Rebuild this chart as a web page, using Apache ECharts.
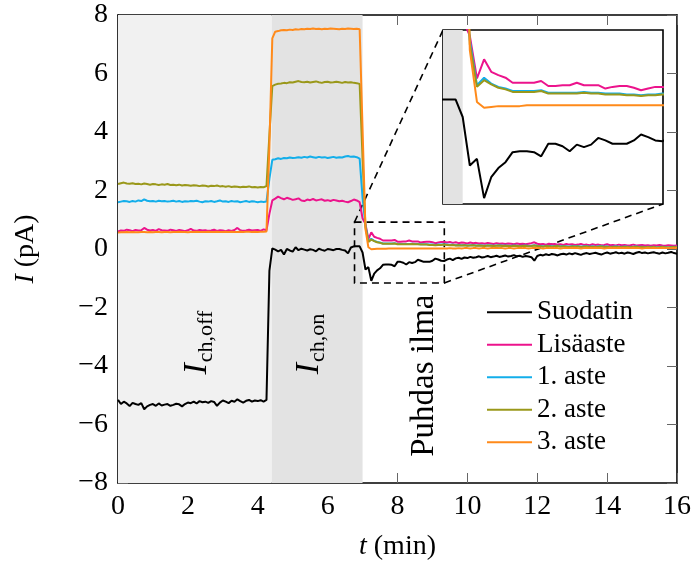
<!DOCTYPE html>
<html>
<head>
<meta charset="utf-8">
<script src="https://cdn.jsdelivr.net/npm/echarts@6/dist/echarts.min.js"></script>
<style>
  html, body { margin: 0; padding: 0; background: #fff; }
  #chart { width: 694px; height: 569px; }
</style>
</head>
<body>
<div id="chart"></div>
<script>
// Current I (pA) sampled every 5 s (1/12 min) from t = 0 to 16 min.
const STEP_MIN = 1 / 12;

const seriesNames = ['Suodatin', 'Lisäaste', '1. aste', '2. aste', '3. aste'];

const suodatin = [
  -5.16,-5.30,-5.22,-5.28,-5.37,-5.26,-5.30,-5.33,-5.27,-5.48,
  -5.38,-5.33,-5.30,-5.36,-5.28,-5.35,-5.32,-5.30,-5.36,-5.33,
  -5.29,-5.31,-5.38,-5.30,-5.25,-5.27,-5.22,-5.28,-5.20,-5.24,
  -5.22,-5.26,-5.20,-5.23,-5.36,-5.25,-5.18,-5.22,-5.27,-5.19,
  -5.22,-5.14,-5.20,-5.25,-5.19,-5.16,-5.22,-5.18,-5.20,-5.17,
  -5.22,-5.16,
  -0.75,0.02,-0.02,-0.08,-0.03,-0.19,0.00,-0.05,-0.09,0.06,
  -0.04,0.01,-0.02,-0.05,-0.01,-0.03,-0.08,0.01,-0.03,-0.06,
  0.00,-0.02,-0.04,0.00,0.00,-0.03,-0.05,-0.15,0.05,0.09,
  0.09,0.09,
  -0.12,-0.70,-0.62,-1.09,-0.84,-0.73,-0.66,-0.54,-0.53,-0.53,
  -0.54,-0.59,-0.44,-0.44,-0.47,-0.53,-0.45,-0.48,-0.45,-0.37,
  -0.40,-0.44,-0.44,-0.44,-0.40,-0.33,-0.36,-0.40,-0.41,
  -0.36,-0.33,-0.38,-0.32,-0.30,-0.34,-0.29,-0.31,-0.27,-0.30,
  -0.28,-0.25,-0.29,-0.27,-0.24,-0.28,-0.26,-0.23,-0.27,-0.25,
  -0.22,-0.26,-0.24,-0.21,-0.25,-0.23,-0.27,-0.24,-0.26,-0.28,
  -0.40,-0.24,-0.20,-0.22,-0.18,-0.21,-0.17,-0.19,-0.22,-0.18,
  -0.16,-0.19,-0.15,-0.18,-0.14,-0.17,-0.20,-0.16,-0.14,-0.17,
  -0.15,-0.13,-0.16,-0.19,-0.15,-0.12,-0.16,-0.14,-0.11,-0.15,
  -0.13,-0.16,-0.12,-0.14,-0.17,-0.13,-0.10,-0.14,-0.12,-0.15,
  -0.13,-0.11,-0.14,-0.16,-0.12,-0.15,-0.13,-0.10,-0.14,-0.16
];

const lisaaste = [
  0.60,0.63,0.62,0.66,0.64,0.61,0.65,0.63,0.64,0.72,
  0.66,0.63,0.65,0.62,0.68,0.64,0.63,0.62,0.66,0.64,
  0.62,0.65,0.63,0.61,0.64,0.69,0.63,0.62,0.65,0.63,
  0.64,0.62,0.63,0.66,0.62,0.64,0.63,0.61,0.64,0.62,
  0.65,0.72,0.64,0.62,0.63,0.66,0.63,0.64,0.65,0.62,
  0.67,0.64,
  1.20,1.66,1.72,1.79,1.74,1.70,1.75,1.72,1.68,1.70,
  1.73,1.66,1.64,1.69,1.67,1.71,1.66,1.68,1.70,1.65,
  1.67,1.64,1.68,1.66,1.63,1.65,1.62,1.60,1.64,1.69,
  1.66,1.60,
  1.05,0.85,0.34,0.57,0.42,0.38,0.35,0.29,0.29,0.29,
  0.29,0.31,0.25,0.25,0.26,0.26,0.29,0.26,0.26,0.26,
  0.22,0.24,0.25,0.25,0.23,0.20,0.22,0.24,0.24,
  0.22,0.24,0.21,0.23,0.20,0.22,0.21,0.19,0.22,0.20,
  0.21,0.19,0.20,0.18,0.21,0.19,0.17,0.20,0.18,0.19,
  0.17,0.19,0.18,0.16,0.19,0.17,0.18,0.16,0.18,0.20,
  0.23,0.18,0.16,0.17,0.15,0.18,0.16,0.17,0.15,0.16,
  0.14,0.17,0.15,0.16,0.14,0.15,0.17,0.14,0.15,0.13,
  0.16,0.14,0.15,0.13,0.14,0.16,0.13,0.14,0.12,0.15,
  0.13,0.14,0.12,0.13,0.15,0.12,0.13,0.14,0.12,0.13,
  0.11,0.13,0.12,0.14,0.12,0.11,0.13,0.12,0.11,0.12
];

const aste1 = [
  1.60,1.62,1.64,1.63,1.61,1.64,1.62,1.66,1.64,1.70,
  1.65,1.63,1.64,1.62,1.65,1.63,1.64,1.62,1.63,1.65,
  1.62,1.64,1.61,1.63,1.62,1.64,1.63,1.65,1.62,1.60,
  1.63,1.62,1.64,1.61,1.63,1.66,1.62,1.63,1.61,1.64,
  1.62,1.63,1.60,1.62,1.64,1.61,1.63,1.62,1.60,1.62,
  1.61,1.62,
  2.40,3.05,3.07,3.10,3.08,3.11,3.10,3.13,3.11,3.12,
  3.14,3.12,3.15,3.13,3.16,3.14,3.12,3.15,3.13,3.14,
  3.11,3.13,3.15,3.12,3.14,3.13,3.16,3.18,3.15,3.16,
  3.14,3.09,
  1.75,0.80,0.26,0.35,0.28,0.24,0.22,0.19,0.19,0.19,
  0.19,0.20,0.17,0.17,0.17,0.17,0.17,0.18,0.17,0.17,
  0.16,0.16,0.16,0.15,0.15,0.14,0.15,0.15,0.16,
  0.15,0.14,0.15,0.13,0.14,0.13,0.14,0.12,0.13,0.14,
  0.12,0.13,0.12,0.11,0.13,0.12,0.11,0.12,0.13,0.11,
  0.12,0.11,0.10,0.12,0.11,0.10,0.11,0.12,0.10,0.11,
  0.13,0.11,0.10,0.09,0.11,0.10,0.09,0.10,0.11,0.09,
  0.10,0.09,0.08,0.10,0.09,0.10,0.08,0.09,0.10,0.08,
  0.09,0.08,0.09,0.10,0.08,0.09,0.07,0.08,0.09,0.08,
  0.07,0.09,0.08,0.07,0.08,0.09,0.07,0.08,0.07,0.08,
  0.07,0.08,0.06,0.07,0.08,0.07,0.06,0.07,0.08,0.07
];

const aste2 = [
  2.22,2.25,2.27,2.24,2.23,2.25,2.22,2.23,2.21,2.24,
  2.22,2.20,2.22,2.21,2.19,2.21,2.20,2.22,2.19,2.20,
  2.18,2.20,2.17,2.19,2.18,2.16,2.18,2.17,2.15,2.17,
  2.16,2.14,2.16,2.15,2.17,2.14,2.15,2.13,2.15,2.12,
  2.14,2.13,2.11,2.13,2.12,2.14,2.11,2.12,2.10,2.12,
  2.11,2.15,
  3.90,5.57,5.62,5.65,5.66,5.68,5.67,5.70,5.69,5.72,
  5.74,5.71,5.70,5.72,5.69,5.71,5.73,5.70,5.68,5.71,
  5.72,5.69,5.70,5.72,5.70,5.68,5.71,5.69,5.70,5.68,
  5.67,5.64,
  3.10,0.75,0.24,0.32,0.27,0.23,0.21,0.18,0.18,0.18,
  0.18,0.19,0.16,0.16,0.16,0.16,0.16,0.17,0.16,0.16,
  0.15,0.15,0.15,0.14,0.14,0.13,0.14,0.14,0.15,
  0.14,0.13,0.14,0.12,0.13,0.12,0.13,0.11,0.12,0.13,
  0.11,0.12,0.11,0.10,0.12,0.11,0.10,0.11,0.12,0.10,
  0.11,0.10,0.09,0.11,0.10,0.09,0.10,0.11,0.09,0.10,
  0.12,0.10,0.09,0.08,0.10,0.09,0.08,0.09,0.10,0.08,
  0.09,0.08,0.07,0.09,0.08,0.09,0.07,0.08,0.09,0.07,
  0.08,0.07,0.08,0.09,0.07,0.08,0.06,0.07,0.08,0.07,
  0.06,0.08,0.07,0.06,0.07,0.08,0.06,0.07,0.06,0.07,
  0.06,0.07,0.05,0.06,0.07,0.06,0.05,0.06,0.07,0.06
];

const aste3 = [
  0.56,0.57,0.57,0.58,0.57,0.58,0.57,0.57,0.58,0.58,
  0.57,0.58,0.57,0.58,0.58,0.57,0.58,0.58,0.57,0.58,
  0.58,0.59,0.58,0.58,0.57,0.58,0.58,0.59,0.58,0.58,
  0.58,0.59,0.58,0.58,0.59,0.58,0.58,0.59,0.58,0.59,
  0.58,0.58,0.59,0.58,0.59,0.59,0.58,0.59,0.58,0.59,
  0.59,0.60,
  3.50,7.20,7.43,7.45,7.48,7.49,7.48,7.50,7.49,7.51,
  7.50,7.52,7.51,7.53,7.52,7.54,7.52,7.53,7.51,7.53,
  7.52,7.54,7.53,7.52,7.51,7.53,7.52,7.54,7.53,7.52,
  7.53,7.51,
  4.10,0.68,0.06,-0.01,0.00,0.01,0.01,0.01,0.01,0.02,
  0.02,0.02,0.02,0.02,0.02,0.02,0.02,0.02,0.02,0.02,
  0.02,0.02,0.02,0.02,0.02,0.02,0.02,0.02,0.02,
  0.02,0.03,0.02,0.02,0.03,0.02,0.03,0.03,0.02,0.03,
  0.03,0.02,0.03,0.03,0.02,0.03,0.03,0.04,0.03,0.03,
  0.02,0.03,0.03,0.02,0.03,0.04,0.03,0.03,0.02,0.03,
  0.04,0.03,0.03,0.02,0.03,0.03,0.04,0.03,0.03,0.02,
  0.03,0.04,0.03,0.03,0.04,0.03,0.02,0.03,0.04,0.03,
  0.03,0.04,0.03,0.03,0.02,0.03,0.04,0.03,0.03,0.04,
  0.03,0.03,0.04,0.03,0.04,0.03,0.03,0.02,0.03,0.04,
  0.03,0.04,0.03,0.03,0.04,0.03,0.04,0.03,0.03,0.04
];

const seriesValues = [suodatin, lisaaste, aste1, aste2, aste3];

// Axis ranges and ticks
const tRange = [0, 16];
const iRange = [-8, 8];
const tTickStep = 2;
const iTickStep = 2;

// Measurement phases (min): heater off, heater on, then clean air
const phaseOff = [0, 4.4];
const phaseOn = [4.4, 7.0];

// Zoomed window shown in the inset
const zoomT = [6.77, 9.34];
const zoomI = [-1.16, 0.92];

// Phase labels: text and baseline anchor in data units
const phaseLabels = [
  { main: 'I', sub: 'ch,off', at: [2.56, -3.2] },
  { main: 'I', sub: 'ch,on', at: [5.76, -3.25] }
];
const cleanAirLabel = { text: 'Puhdas ilma', at: [8.76, -4.33] };

const colors = ['#000000', '#ec138c', '#13aeea', '#9a981a', '#ff8a1a'];
const FONT = 'Liberation Serif';

seriesValues.forEach((arr, k) => {
  if (arr.length !== 193) throw new Error(seriesNames[k] + ' has ' + arr.length + ' samples');
});

const toPairs = arr => arr.map((v, i) => [i * STEP_MIN, v]);
const minusFmt = v => (v < 0 ? '\u2212' + Math.abs(v) : String(v));

const tickStyle = { show: true, inside: true, length: 10, lineStyle: { color: '#666', width: 1 } };
const frameLine = { show: true, onZero: false, lineStyle: { color: '#000', width: 1.6 } };
const labelStyle = { fontFamily: FONT, fontSize: 28, color: '#000' };

const series = [];
seriesValues.forEach((arr, k) => {
  const s = {
    name: seriesNames[k], type: 'line', xAxisIndex: 0, yAxisIndex: 0,
    data: toPairs(arr), symbol: 'none', showSymbol: false, smooth: false,
    lineStyle: { color: colors[k], width: 2 }, itemStyle: { color: colors[k] },
    emphasis: { disabled: true }, animation: false, z: 3
  };
  if (k === 0) {
    s.markArea = {
      silent: true, z: 1,
      data: [
        [{ xAxis: phaseOff[0], itemStyle: { color: '#f1f1f1' } }, { xAxis: phaseOff[1] }],
        [{ xAxis: phaseOn[0], itemStyle: { color: '#e3e3e3' } }, { xAxis: phaseOn[1] }],
        [{ coord: [zoomT[0], zoomI[1]], itemStyle: { color: 'rgba(0,0,0,0)', borderColor: '#000', borderWidth: 1.6, borderType: [7, 5] } },
         { coord: [zoomT[1], zoomI[0]] }]
      ]
    };
  }
  series.push(s);
});
seriesValues.forEach((arr, k) => {
  const s = {
    name: seriesNames[k], type: 'line', xAxisIndex: 2, yAxisIndex: 2,
    data: toPairs(arr), symbol: 'none', showSymbol: false, clip: true,
    lineStyle: { color: colors[k], width: 2 }, itemStyle: { color: colors[k] },
    emphasis: { disabled: true }, animation: false, z: 6
  };
  if (k === 0) {
    s.markArea = {
      silent: true, z: 5,
      data: [[{ xAxis: zoomT[0], itemStyle: { color: '#e3e3e3' } }, { xAxis: phaseOn[1] }]]
    };
  }
  series.push(s);
});

const chart = echarts.init(document.getElementById('chart'), null, { renderer: 'canvas' });

chart.setOption({
  animation: false,
  backgroundColor: '#fff',
  grid: [
    { left: 118, top: 15, width: 562, height: 468, containLabel: false },
    { left: 443, top: 30, width: 220, height: 174, show: true, backgroundColor: '#fff',
      borderColor: '#000', borderWidth: 1.6, z: 4 }
  ],
  xAxis: [
    { type: 'value', gridIndex: 0, min: tRange[0], max: tRange[1], interval: tTickStep, position: 'bottom',
      axisLine: frameLine, axisTick: tickStyle, splitLine: { show: false },
      axisLabel: Object.assign({ margin: 10, formatter: minusFmt }, labelStyle),
      name: '{it|t} (min)', nameLocation: 'middle', nameGap: 50,
      nameTextStyle: Object.assign({ rich: { it: Object.assign({ fontStyle: 'italic' }, labelStyle) } }, labelStyle) },
    { type: 'value', gridIndex: 0, min: tRange[0], max: tRange[1], interval: tTickStep, position: 'top',
      axisLine: frameLine, axisTick: tickStyle, splitLine: { show: false }, axisLabel: { show: false } },
    { type: 'value', gridIndex: 1, min: zoomT[0], max: zoomT[1], show: true,
      axisLine: { show: false }, axisTick: { show: false }, axisLabel: { show: false }, splitLine: { show: false } }
  ],
  yAxis: [
    { type: 'value', gridIndex: 0, min: iRange[0], max: iRange[1], interval: iTickStep, position: 'left',
      axisLine: frameLine, axisTick: tickStyle, splitLine: { show: false },
      axisLabel: Object.assign({ margin: 10, formatter: minusFmt }, labelStyle),
      name: '{it|I} (pA)', nameLocation: 'middle', nameGap: 78, nameRotate: 90,
      nameTextStyle: Object.assign({ rich: { it: Object.assign({ fontStyle: 'italic' }, labelStyle) } }, labelStyle) },
    { type: 'value', gridIndex: 0, min: iRange[0], max: iRange[1], interval: iTickStep, position: 'right',
      axisLine: frameLine, axisTick: tickStyle, splitLine: { show: false }, axisLabel: { show: false } },
    { type: 'value', gridIndex: 1, min: zoomI[0], max: zoomI[1], show: true,
      axisLine: { show: false, onZero: false }, axisTick: { show: false }, axisLabel: { show: false }, splitLine: { show: false } }
  ],
  legend: {
    data: seriesNames, orient: 'vertical', left: 487, top: 296,
    icon: 'rect', itemWidth: 45, itemHeight: 2, itemGap: 0, selectedMode: false,
    textStyle: { fontFamily: FONT, fontSize: 27, color: '#000', lineHeight: 32.5 },
    backgroundColor: 'transparent', padding: 0
  },
  series: series
});

// Annotations and zoom connectors, placed from data coordinates
const mainFinder = { xAxisIndex: 0, yAxisIndex: 0 };
const zoomFinder = { xAxisIndex: 2, yAxisIndex: 2 };
const measureCtx = document.createElement('canvas').getContext('2d');
function textWidth(str, font) { measureCtx.font = font; return measureCtx.measureText(str).width; }

const graphics = [];
const MAIN_SIZE = 34, SUB_SIZE = 22;
phaseLabels.forEach(lbl => {
  const p = chart.convertToPixel(mainFinder, lbl.at);
  const wMain = textWidth(lbl.main, 'italic ' + MAIN_SIZE + 'px "' + FONT + '"');
  const wSub = textWidth(lbl.sub, SUB_SIZE + 'px "' + FONT + '"');
  const total = wMain + 1 + wSub;
  graphics.push({
    type: 'group', x: p[0], y: p[1], rotation: Math.PI / 2, silent: true, z: 20,
    children: [
      { type: 'text', z: 20, x: -total / 2, y: 7, style: { text: lbl.main, fontFamily: FONT, fontSize: MAIN_SIZE,
        fontStyle: 'italic', fill: '#000', align: 'left', verticalAlign: 'bottom' } },
      { type: 'text', z: 20, x: -total / 2 + wMain + 1, y: 10, style: { text: lbl.sub, fontFamily: FONT, fontSize: SUB_SIZE,
        fill: '#000', align: 'left', verticalAlign: 'bottom' } }
    ]
  });
});
const pc = chart.convertToPixel(mainFinder, cleanAirLabel.at);
graphics.push({
  type: 'text', x: pc[0], y: pc[1], rotation: Math.PI / 2, silent: true, z: 20,
  style: { text: cleanAirLabel.text, fontFamily: FONT, fontSize: 33, fill: '#000', align: 'center', verticalAlign: 'middle' }
});

const dash = { stroke: '#000', lineWidth: 1.6, lineDash: [7, 5] };
const a1 = chart.convertToPixel(mainFinder, [zoomT[0], zoomI[1]]);
const b1 = chart.convertToPixel(zoomFinder, [zoomT[0], zoomI[1]]);
const a2 = chart.convertToPixel(mainFinder, [zoomT[1], zoomI[0]]);
const b2 = chart.convertToPixel(zoomFinder, [zoomT[1], zoomI[0]]);
graphics.push({ type: 'line', silent: true, z: 3, shape: { x1: a1[0], y1: a1[1], x2: b1[0], y2: b1[1] }, style: dash });
graphics.push({ type: 'line', silent: true, z: 3, shape: { x1: a2[0], y1: a2[1], x2: b2[0], y2: b2[1] }, style: dash });

chart.setOption({ graphic: graphics });
</script>
</body>
</html>
